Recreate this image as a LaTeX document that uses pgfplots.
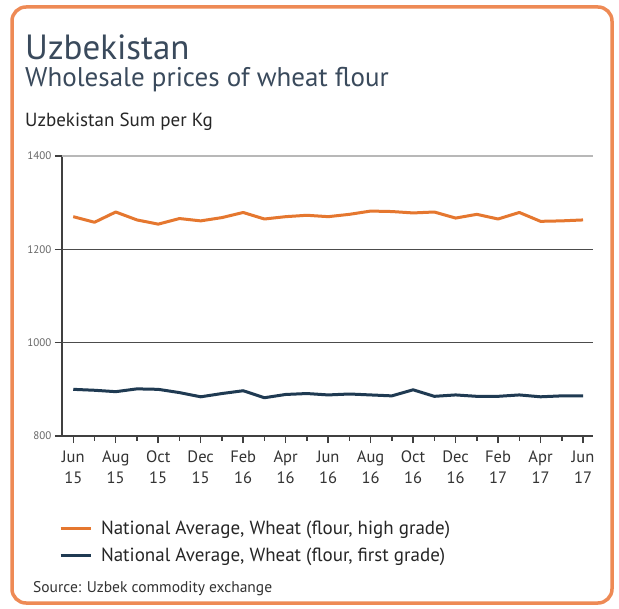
\documentclass[border=0pt]{standalone}
\usepackage{fontspec}
\setmainfont{PT Sans}
\usepackage{pgfplots}
\pgfplotsset{compat=1.18}
\definecolor{orangeL}{HTML}{E5772F}
\definecolor{navyL}{HTML}{1F3A52}
\definecolor{borderC}{HTML}{EE8A55}
\definecolor{titleC}{HTML}{3A4A5C}
\begin{document}
\begin{tikzpicture}[x=1pt,y=1pt]
\useasboundingbox (0,0) rectangle (619,-609);
\fill[white] (0,0) rectangle (619,-609);
\draw[borderC, line width=3.5pt, rounded corners=14pt] (12,-7) rectangle (612,-603);
\node[anchor=base west, inner sep=0, text=titleC, font=\fontsize{35}{40}\selectfont] at (25,-60) {Uzbekistan};
\node[anchor=base west, inner sep=0, text=titleC, font=\fontsize{27}{30}\selectfont] at (25,-87) {Wholesale prices of wheat flour};
\node[anchor=base west, inner sep=0, text=black!85, font=\fontsize{19}{21}\selectfont] at (25,-127) {Uzbekistan Sum per Kg};
\node[anchor=base west, inner sep=0, text=black!80, font=\fontsize{15.5}{17}\selectfont] at (33,-593) {Source: Uzbek commodity exchange};
\begin{axis}[
  at={(62pt,-436pt)}, anchor=south west,
  scale only axis, width=531pt, height=280pt,
  xmin=-0.53, xmax=24.47, ymin=800, ymax=1400,
  axis x line*=bottom, axis y line*=left,
  x axis line style={black!75, line width=2pt},
  y axis line style={black!75, line width=1.5pt},
  xtick={0,2,...,24},
  minor xtick={1,3,...,23},
  xticklabels={{Jun\\15},{Aug\\15},{Oct\\15},{Dec\\15},{Feb\\16},{Apr\\16},{Jun\\16},{Aug\\16},{Oct\\16},{Dec\\16},{Feb\\17},{Apr\\17},{Jun\\17}},
  xticklabel style={align=center, font=\fontsize{16.5}{21}\selectfont, text=black!80, yshift=-4pt},
  ytick={800,1000,1200,1400},
  yticklabel style={font=\fontsize{11}{12}\selectfont, text=black!60},
  /pgf/number format/assume math mode=true,
  /pgf/number format/1000 sep={},
  tick align=outside,
  major tick length=7pt, minor tick length=4.5pt,
  tick style={black!75, line width=1.5pt},
  extra y ticks={1000,1200}, extra y tick labels={},
  extra y tick style={grid=major, major grid style={black!70, line width=0.9pt}},
  clip=false,
  legend cell align=left,
  legend style={at={(axis description cs:-0.006,-0.297)}, anchor=north west, draw=none, fill=none,
    font=\fontsize{19}{22}\selectfont, text=black!85, row sep=8pt, inner sep=0pt},
  legend image code/.code={\draw[#1, line width=3pt] (0pt,0pt) -- (30pt,0pt); \path (37pt,0pt);},
]
\draw[black!28, line width=2.5pt] (rel axis cs:0,1) -- (rel axis cs:1,1);
\addplot[orangeL, line width=3pt, line join=round] coordinates {
(0,1270) (1,1258) (2,1280) (3,1263) (4,1254) (5,1266) (6,1261) (7,1268) (8,1279) (9,1265) (10,1270) (11,1273) (12,1270) (13,1275) (14,1282) (15,1281) (16,1278) (17,1280) (18,1267) (19,1275) (20,1265) (21,1279) (22,1260) (23,1261) (24,1263)};
\addlegendentry{National Average, Wheat (flour, high grade)}
\addplot[navyL, line width=3pt, line join=round] coordinates {
(0,900) (1,898) (2,895) (3,901) (4,900) (5,893) (6,884) (7,891) (8,897) (9,882) (10,889) (11,891) (12,888) (13,890) (14,888) (15,886) (16,899) (17,885) (18,888) (19,885) (20,885) (21,888) (22,884) (23,886) (24,886)};
\addlegendentry{National Average, Wheat (flour, first grade)}
\end{axis}
\end{tikzpicture}
\end{document}
